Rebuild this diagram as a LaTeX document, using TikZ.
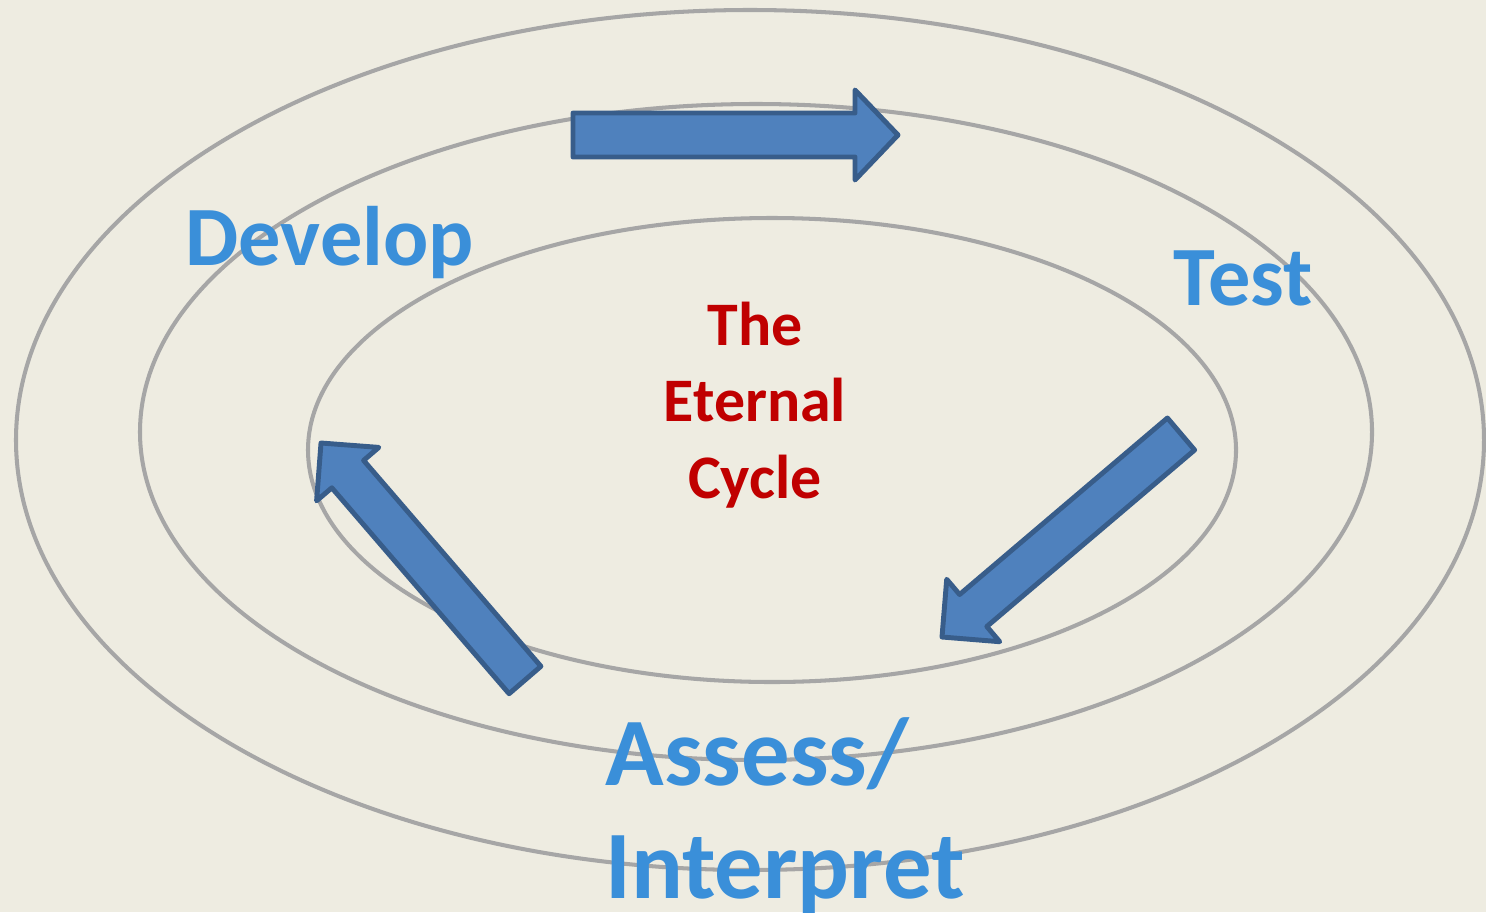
\documentclass[tikz,border=0pt]{standalone}
\usepackage{fontspec}
\setmainfont{Carlito}
\usepackage{tikz}
\definecolor{paper}{HTML}{EEECE1}
\definecolor{ringgray}{HTML}{A6A6A6}
\definecolor{arrowfill}{HTML}{4F81BD}
\definecolor{arrowline}{HTML}{385D8A}
\definecolor{labelblue}{HTML}{3A8FD9}
\definecolor{cyclered}{HTML}{C00000}

\begin{document}
\begin{tikzpicture}[x=0.01cm,y=-0.01cm]
      \tikzstyle{every node}+=[inner sep=0pt]
      \tikzstyle{ring}=[draw=ringgray, line width=1.15pt]
      \tikzstyle{blockarrow}=[fill=arrowfill, draw=arrowline, line width=1.4pt, line join=round]
      \tikzstyle{phase}=[text=labelblue, font=\bfseries]
      \fill [paper] (0,0) rectangle (1486,912);
      \useasboundingbox (0,0) rectangle (1486,912);
      % the three rings
      \draw [ring] (750,440) ellipse (734 and 430);
      \draw [ring] (756,432) ellipse (616 and 328);
      \draw [ring] (772,450) ellipse (464 and 232);
      % arrows round the cycle
      \draw [blockarrow] (573,113) -- (855,113) -- (855,90) -- (898,135) -- (855,180) -- (855,157) -- (573,157) -- cycle;
      \draw [blockarrow] (1167.4,418.0) -- (959.6,594.5) -- (946.7,579.3) -- (942,637) -- (999.7,641.7) -- (986.8,626.5) -- (1194.6,450.0) -- cycle;
      \draw [blockarrow] (540.9,666.3) -- (363.6,460.4) -- (378.8,447.4) -- (321,443) -- (316.6,500.8) -- (331.8,487.8) -- (509.1,693.7) -- cycle;
      % labels
      \node (develop) [phase, anchor=base west, font=\bfseries\fontsize{24}{28}\selectfont] at (185,265) {Develop};
      \node (test) [phase, anchor=base west, font=\bfseries\fontsize{24}{28}\selectfont] at (1173,305) {Test};
      \node (assess) [phase, anchor=north west, align=left, font=\bfseries\fontsize{27.5}{32}\selectfont] at (605,717) {Assess/\\Interpret};
      \node (cycle) [text=cyclered, align=center, font=\bfseries\fontsize{17.6}{21.8}\selectfont] at (755,405) {The\\Eternal\\Cycle};
    \end{tikzpicture}
\end{document}
